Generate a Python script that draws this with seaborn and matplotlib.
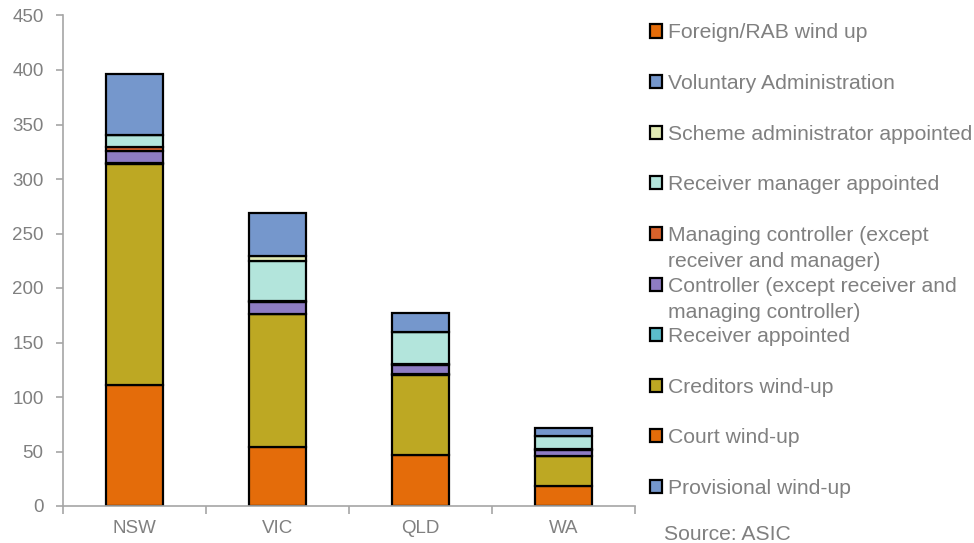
import matplotlib
matplotlib.use("Agg")
import matplotlib.pyplot as plt
from matplotlib.patches import Rectangle
from matplotlib.ticker import FixedLocator
import seaborn as sns
import pandas as pd
import numpy as np

states = ["NSW", "VIC", "QLD", "WA"]
provisional = [0, 0, 0, 0]
court = [111, 54, 47, 18]
creditors = [203, 122, 73, 28]
receiver = [1, 0, 1, 0]
controller = [11, 11, 8, 5]
managing = [3, 1, 1, 1]
receiver_mgr = [11, 37, 30, 12]
scheme = [0, 4, 0, 0]
voluntary = [56, 40, 17, 8]
foreign = [0, 0, 0, 0]

series_names = [
    "Provisional wind-up",
    "Court wind-up",
    "Creditors wind-up",
    "Receiver appointed",
    "Controller (except receiver and\nmanaging controller)",
    "Managing controller (except\nreceiver and manager)",
    "Receiver manager appointed",
    "Scheme administrator appointed",
    "Voluntary Administration",
    "Foreign/RAB wind up",
]
series_values = [provisional, court, creditors, receiver, controller, managing,
                 receiver_mgr, scheme, voluntary, foreign]
colors = ["#7597CC", "#E46C0A", "#BDA823", "#5BBCCB", "#8E7CC3", "#D9622B",
          "#B3E5DC", "#E2EBB4", "#7597CC", "#E46C0A"]

sns.set_style("white")
plt.rcParams["font.family"] = ["Liberation Sans", "DejaVu Sans"]

W, H = 974, 543
fig = plt.figure(figsize=(W / 100, H / 100), dpi=100)
ax = fig.add_axes([63 / W, 37 / H, 572 / W, 490.5 / H])

bottom = np.zeros(len(states))
for name, vals, col in zip(series_names, series_values, colors):
    vals = np.array(vals, dtype=float)
    if vals.sum() > 0:
        df = pd.DataFrame({"state": states, "value": vals})
        sns.barplot(data=df, x="state", y="value", order=states, color=col,
                    bottom=bottom, width=0.4, edgecolor="black", linewidth=1.6,
                    saturation=1, ax=ax, errorbar=None)
    bottom = bottom + vals

ax.set_xlim(-0.5, 3.5)
ax.set_ylim(0, 450)
ax.set_yticks(np.arange(0, 451, 50))
ax.set_xlabel("")
ax.set_ylabel("")

grey = "#808080"
spine_c = "#A6A6A6"
for s in ["top", "right"]:
    ax.spines[s].set_visible(False)
for s in ["left", "bottom"]:
    ax.spines[s].set_color(spine_c)
    ax.spines[s].set_linewidth(1.2)

ax.tick_params(axis="y", direction="out", length=5, width=1.2, color=spine_c,
               labelcolor=grey, labelsize=13.5, pad=9, left=True)
ax.tick_params(axis="x", which="major", length=0, labelcolor=grey,
               labelsize=13.5, pad=10)
ax.xaxis.set_minor_locator(FixedLocator([-0.5, 0.5, 1.5, 2.5, 3.5]))
ax.tick_params(axis="x", which="minor", direction="out", length=6, width=1.2,
               color=spine_c, bottom=True)

# legend (swatches equally spaced, text first line aligned to swatch)
legend_order = list(range(len(series_names)))[::-1]
fs = 15.2
line_gap = 26
for i, idx in enumerate(legend_order):
    cy = 31 + 50.6 * i
    fig.patches.append(Rectangle((650 / W, 1 - (cy + 6.5) / H), 12 / W, 13 / H,
                                 transform=fig.transFigure, facecolor=colors[idx],
                                 edgecolor="black", linewidth=1.6))
    for k, line in enumerate(series_names[idx].split("\n")):
        fig.text(668 / W, 1 - (cy + 7.5 + k * line_gap) / H, line, fontsize=fs,
                 color=grey, va="baseline", ha="left")

fig.text(664 / W, 1 - (533 + 7.5) / H, "Source: ASIC", fontsize=fs, color=grey,
         va="baseline", ha="left")

fig.savefig("out.png", dpi=100)
